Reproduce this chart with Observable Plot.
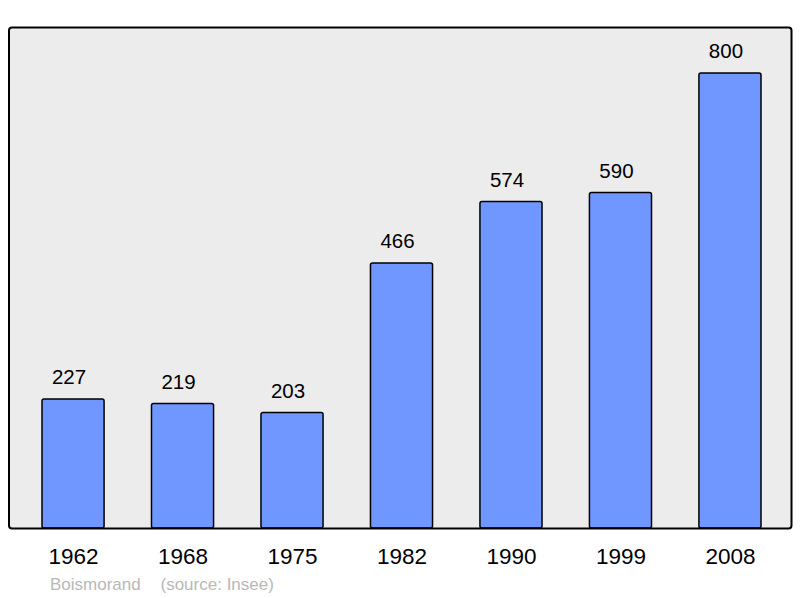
<!DOCTYPE html>
<html>
<head>
<meta charset="utf-8">
<script src="https://cdn.jsdelivr.net/npm/d3@7"></script>
<script src="https://cdn.jsdelivr.net/npm/@observablehq/plot@0.6"></script>
<style>
  html, body { margin: 0; padding: 0; background: #fff; }
  svg { display: block; }
</style>
</head>
<body>
<div id="chart"></div>
<script>
const years = ["1962", "1968", "1975", "1982", "1990", "1999", "2008"];
const population = [227, 219, 203, 466, 574, 590, 800];
const commune = "Boismorand";
const source = "(source: Insee)";

const data = years.map((y, i) => ({year: y, pop: population[i]}));
const font = "Liberation Sans, Arial, sans-serif";

const chart = Plot.plot({
  width: 800,
  height: 598,
  marginLeft: 8.5,
  marginRight: 9,
  marginTop: 27,
  marginBottom: 70,
  style: {fontFamily: font, background: "#fff", overflow: "visible"},
  x: {domain: years, range: [42, 761], paddingInner: 0.433, paddingOuter: 0, round: false, axis: null},
  y: {domain: [0, 881], axis: null},
  marks: [
    Plot.frame({fill: "#ececec", stroke: "none", rx: 3}),
    Plot.barY(data, {x: "year", y: "pop", fill: "#7097ff", stroke: "#000", strokeWidth: 1.5, rx: 2}),
    Plot.frame({stroke: "#000", strokeWidth: 2, rx: 3}),
    Plot.text(data, {x: "year", y: "pop", text: d => String(d.pop), dx: -4.5, dy: -22, fontSize: 20.5, fill: "#000"}),
    Plot.axisX({tickSize: 0, tickPadding: 0, dy: 20, fontSize: 22.5, fill: "#000", label: null}),
    Plot.text([commune], {frameAnchor: "bottom-left", dx: 41, dy: 56, fill: "#b8b8b8", fontSize: 17, textAnchor: "start", lineAnchor: "middle"}),
    Plot.text([source], {frameAnchor: "bottom-left", dx: 151.5, dy: 56, fill: "#b8b8b8", fontSize: 17, textAnchor: "start", lineAnchor: "middle"})
  ]
});
document.getElementById("chart").appendChild(chart);
</script>
</body>
</html>
